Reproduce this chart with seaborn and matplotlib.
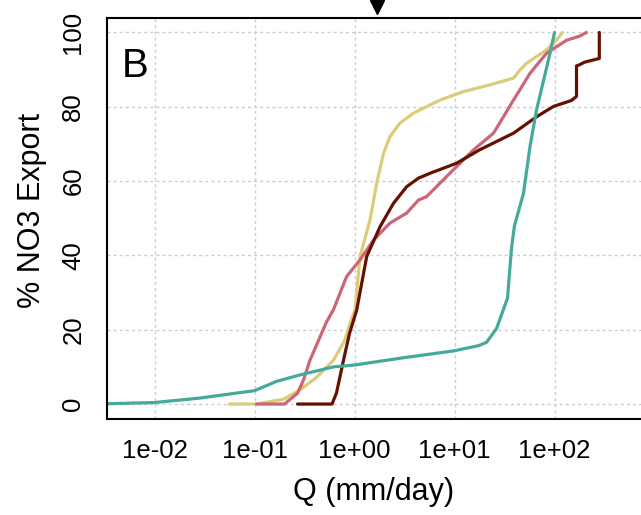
import numpy as np
import pandas as pd
import matplotlib
matplotlib.use('Agg')
import matplotlib.pyplot as plt
import matplotlib.transforms as mtransforms
import seaborn as sns

# ── data: log10 Q (mm/day) and cumulative % NO3 export ──
teal_logq = [-2.6, -2.0, -1.55, -1.0, -0.78, -0.55, -0.21, 0.0, 0.5, 0.99, 1.24,
             1.32, 1.42, 1.53, 1.57, 1.60, 1.69, 1.755, 1.82, 1.955, 2.0]
teal_pct = [0, 0.4, 1.6, 3.6, 6.1, 7.8, 10.0, 10.5, 12.5, 14.3, 15.7,
            16.6, 20.3, 28.5, 42, 48, 56.7, 69.3, 79.1, 94.4, 100]

sand_logq = [-1.25, -1.17, -0.98, -0.71, -0.545, -0.375, -0.21, -0.1, -0.04, 0.005,
             0.055, 0.155, 0.222, 0.29, 0.355, 0.455, 0.59, 0.855, 1.09, 1.355,
             1.59, 1.655, 1.72, 1.92, 2.02, 2.08]
sand_pct = [0, 0, 0, 1.3, 3.8, 7.3, 11.8, 17, 22.1, 25.3,
            39.7, 49.5, 59.4, 67.5, 72, 75.6, 78.3, 81.8, 84.1, 85.9,
            87.7, 89.9, 91.7, 95.3, 98, 100]

rose_logq = [-0.98, -0.70, -0.57, -0.51, -0.445, -0.28, -0.212, -0.079, 0.055, 0.189,
             0.355, 0.522, 0.64, 0.72, 0.92, 1.19, 1.39, 1.59, 1.755, 1.92,
             2.12, 2.25, 2.32]
rose_pct = [0, 0, 2.9, 6.5, 11.8, 22.1, 25.3, 34.3, 38.8, 44.1,
            48.7, 51.4, 54.9, 55.8, 61.2, 68.4, 72.9, 81.8, 89, 94.4,
            97.9, 99, 100]

wine_logq = [-0.57, -0.225, -0.18, -0.11, -0.05, 0.022, 0.122, 0.255, 0.389, 0.522,
             0.64, 0.755, 1.02, 1.25, 1.59, 1.82, 1.99, 2.17, 2.22, 2.22,
             2.25, 2.30, 2.448, 2.448]
wine_pct = [0, 0, 3, 11.8, 19, 25.3, 39.7, 47.7, 54, 58.5,
            60.8, 62.1, 64.8, 68.4, 72.9, 77.3, 80.1, 81.7, 82.8, 91,
            91.3, 92, 93, 100]

series_names = ['sand', 'rose', 'wine', 'teal']
series_colors = ['#DDCC77', '#CC6677', '#661100', '#44AA99']
marker_q = 1.67          # black triangle above the panel
panel_letter = 'B'

x_ticks = [1e-2, 1e-1, 1e0, 1e1, 1e2]
x_ticklabels = ['1e-02', '1e-01', '1e+00', '1e+01', '1e+02']
y_ticks = [0, 20, 40, 60, 80, 100]

# long-form table for seaborn
frames = []
for name, lq, pc in [('sand', sand_logq, sand_pct), ('rose', rose_logq, rose_pct),
                     ('wine', wine_logq, wine_pct), ('teal', teal_logq, teal_pct)]:
    frames.append(pd.DataFrame({'site': name, 'Q': 10 ** np.array(lq), 'pct': pc}))
df = pd.concat(frames, ignore_index=True)

sns.set_style('white')
plt.rcParams['font.family'] = ['Liberation Sans', 'DejaVu Sans']
plt.rcParams['text.color'] = 'black'

fig = plt.figure(figsize=(6.41, 5.15), dpi=100)
W, H = 641, 515
# axes placed in pixel terms; right edge runs off the canvas like the source crop
ax = fig.add_axes([106.7 / W, 1 - 418.9 / H, 547.8 / W, 401.3 / H])

ax.set_xscale('log')
ax.set_xlim(10 ** -2.478, 10 ** 3.0)
ax.set_ylim(-4, 104)

# dotted grid first so the curves sit on top
for xt in x_ticks:
    ax.axvline(xt, color='#cccccc', lw=1, ls=(0, (2.2, 2.2)), zorder=0)
for yt in y_ticks:
    ax.axhline(yt, color='#cccccc', lw=1, ls=(0, (2.2, 2.2)), zorder=0)

sns.lineplot(data=df, x='Q', y='pct', hue='site', hue_order=series_names,
             palette=dict(zip(series_names, series_colors)),
             estimator=None, sort=False, units='site', legend=False,
             linewidth=2.3, ax=ax)

ax.set_xticks(x_ticks)
ax.set_xticklabels(x_ticklabels)
ax.minorticks_off()
ax.set_yticks(y_ticks)
ax.set_xlabel('')
ax.set_ylabel('')
ax.tick_params(axis='both', direction='out', length=8.4, width=1.2,
               color='black', labelsize=18.5, labelcolor='black')
ax.tick_params(axis='x', pad=6)
ax.tick_params(axis='y', pad=7, labelrotation=90)
for lab in ax.get_yticklabels():
    lab.set_verticalalignment('center')

for side in ['left', 'bottom', 'top', 'right']:
    ax.spines[side].set_linewidth(1.5)
    ax.spines[side].set_color('black')

# triangle marker above the axes
trans = mtransforms.blended_transform_factory(ax.transData, ax.transAxes)
ax.plot([marker_q], [1.0264], marker='v', ms=10, color='black',
        transform=trans, clip_on=False, zorder=5)

fig.text(135 / W, 1 - 77 / H, panel_letter, ha='center', va='baseline',
         fontsize=29, color='black')
fig.text(374 / W, 1 - 492 / H, 'Q (mm/day)', ha='center', va='center',
         fontsize=22, color='black')
fig.text(32 / W, 1 - 210 / H, '% NO3 Export', ha='center', va='center',
         rotation=90, fontsize=22, color='black')

fig.savefig('out.png', dpi=100)
